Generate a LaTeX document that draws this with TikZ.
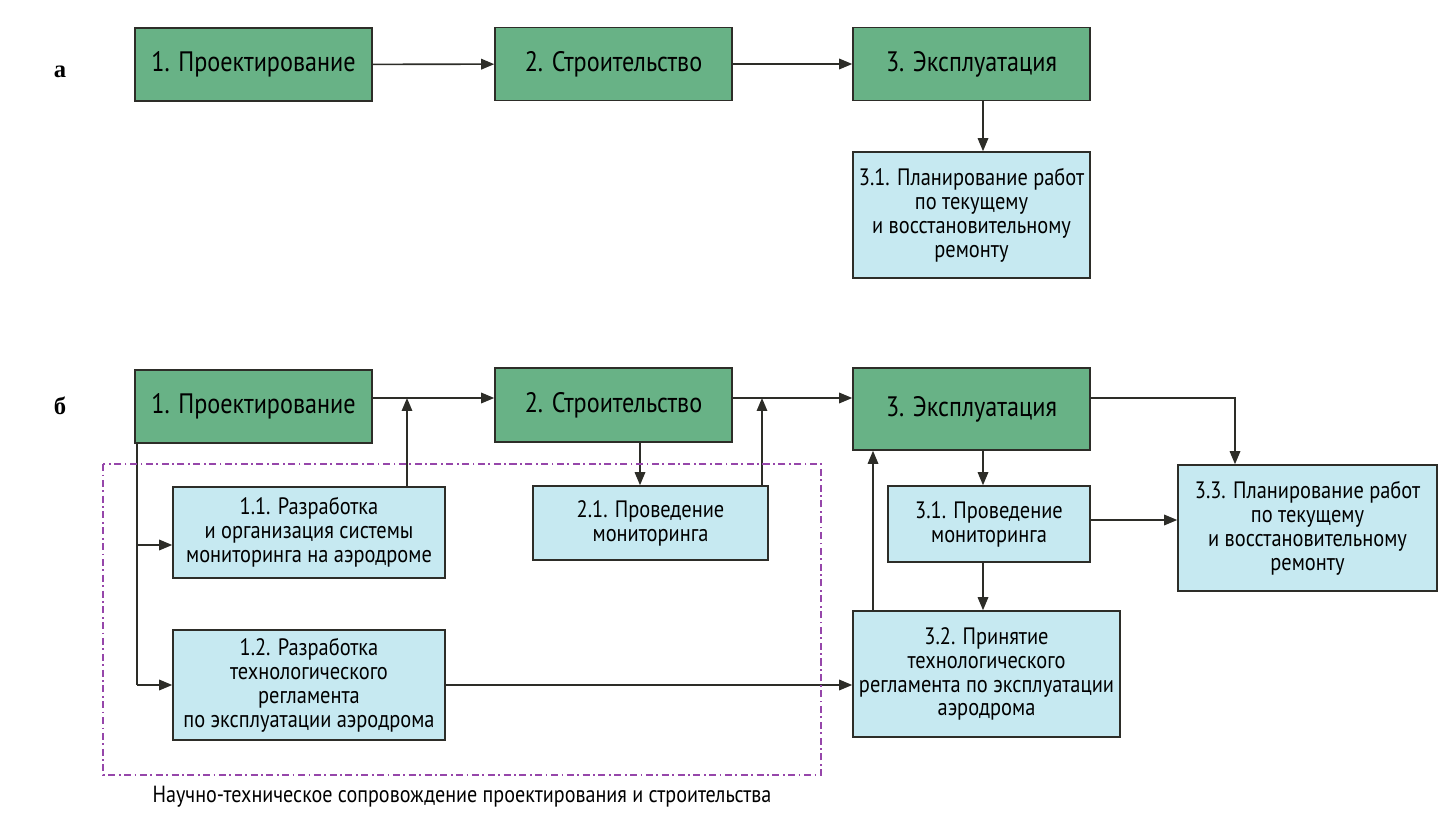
\documentclass[tikz,border=0pt]{standalone}
\usepackage{fontspec}
\setmainfont{PT Sans}[FakeStretch=0.86]
\newfontfamily\lblfont{Liberation Serif}
\usepackage{xcolor}
\usetikzlibrary{arrows.meta}

\definecolor{stagegreen}{RGB}{104,178,134}
\definecolor{taskblue}{RGB}{198,233,241}
\definecolor{edgegray}{RGB}{45,45,40}
\definecolor{framepurple}{RGB}{150,70,170}

\begin{document}
\begin{tikzpicture}[x=0.02cm, y=-0.02cm,
  stage/.style={draw=edgegray, line width=0.9pt, fill=stagegreen, align=center, minimum width=4.74cm, minimum height=1.46cm, font=\fontsize{16}{18}\selectfont, inner sep=2pt},
  task/.style={draw=edgegray, line width=0.9pt, fill=taskblue, align=center, font=\fontsize{13.5}{13.6}\selectfont, inner sep=2pt},
  arr/.style={-{Triangle[length=2.6mm, width=2.1mm]}, line width=0.9pt, draw=edgegray},
  ln/.style={line width=0.9pt, draw=edgegray},
  sopr/.style={draw=framepurple, line width=0.7pt, dash pattern=on 4pt off 2pt on 1pt off 2pt},
  part/.style={font=\lblfont\bfseries\fontsize{14}{16}\selectfont}
]
\useasboundingbox (0,0) rectangle (1445,821);

% а
\node[part] (pa) at (60,72) {а};
\node[stage] (a1) at (253.5,64.5) {1. Проектирование};
\node[stage] (a2) at (613.5,64) {2. Строительство};
\node[stage] (a3) at (971.5,64) {3. Эксплуатация};
\node[task, minimum width=4.74cm, minimum height=2.52cm] (a31) at (971.5,215)
  {3.1. Планирование работ\\ по текущему\\ и восстановительному\\ ремонту};

\draw[arr] (a1) -- (a2);
\draw[arr] (a2) -- (a3);
\draw[arr] (a3.south -| 983,0) -- (a31.north -| 983,0);

% б
\node[part] (pb) at (60,406) {б};
\node[stage] (b1) at (253.5,406.5) {1. Проектирование};
\node[stage, minimum height=1.48cm] (b2) at (613.5,405) {2. Строительство};
\node[stage, minimum height=1.64cm] (b3) at (971.5,409) {3. Эксплуатация};

\node[task, minimum width=5.44cm, minimum height=1.82cm] (b11) at (309,532.5)
  {1.1. Разработка\\ и организация системы\\ мониторинга на аэродроме};
\node[task, minimum width=5.44cm, minimum height=2.2cm] (b12) at (309,685)
  {1.2. Разработка\\ технологического\\ регламента\\ по эксплуатации аэродрома};
\node[task, minimum width=4.7cm, minimum height=1.48cm] (b21) at (650.5,523)
  {2.1. Проведение\\ мониторинга};
\node[task, minimum width=4.04cm, minimum height=1.52cm] (b31) at (989,524)
  {3.1. Проведение\\ мониторинга};
\node[task, minimum width=5.34cm, minimum height=2.52cm] (b32) at (986.5,674)
  {3.2. Принятие\\ технологического\\ регламента по эксплуатации\\ аэродрома};
\node[task, minimum width=5.18cm, minimum height=2.52cm] (b33) at (1307.5,528)
  {3.3. Планирование работ\\ по текущему\\ и восстановительному\\ ремонту};

\coordinate (j1) at (407,398);
\coordinate (j2) at (762,398);
\coordinate (j3) at (1235,398);

\draw[arr] (b1.east |- j1) -- (b2.west |- j1);
\draw[arr] (b11.north -| j1) -- (j1);
\draw[arr] (b2.east |- j2) -- (b3.west |- j2);
\draw[arr] (b21.north -| j2) -- (j2);
\draw[arr] (b2.south -| 640,0) -- (b21.north -| 640,0);

\draw[ln] (b1.south -| 137,0) -- (137,685);
\draw[arr] (137,545) -- (b11.west |- 0,545);
\draw[arr] (137,685) -- (b12.west |- 0,685);
\draw[arr] (b12.east |- 0,685) -- (b32.west |- 0,685);

\draw[arr] (b32.north -| 873,0) -- (b3.south -| 873,0);
\draw[arr] (b3.south -| 983,0) -- (b31.north -| 983,0);
\draw[arr] (b31.south -| 983,0) -- (b32.north -| 983,0);
\draw[arr] (b31.east |- 0,520) -- (b33.west |- 0,520);
\draw[arr] (b3.east |- j3) -- (j3) -- (b33.north -| j3);

% рамка сопровождения
\draw[sopr] (103,464) rectangle (821,775);
\node[font=\fontsize{13.3}{15}\selectfont] (cap) at (462,797)
  {Научно-техническое сопровождение проектирования и строительства};
\end{tikzpicture}
\end{document}
